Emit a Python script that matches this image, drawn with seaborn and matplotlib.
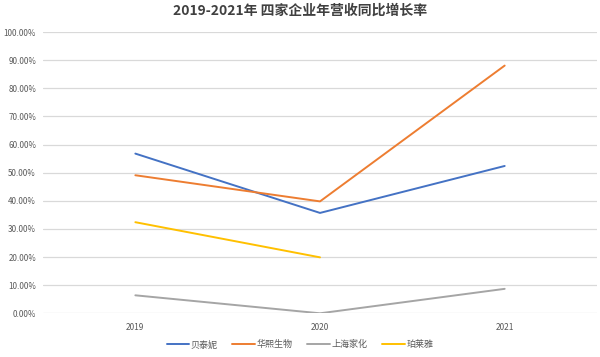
import matplotlib
matplotlib.use("Agg")
import matplotlib.pyplot as plt
import seaborn as sns
import pandas as pd
import numpy as np

years = ["2019", "2020", "2021"]
series_names = ["贝泰妮", "华熙生物", "上海家化", "珀莱雅"]
betaini = [56.8, 35.7, 52.4]
huaxi = [49.1, 39.8, 88.1]
jiahua = [6.4, 0.0, 8.7]
proya = [32.4, 19.9, None]
y_ticks = [0, 10, 20, 30, 40, 50, 60, 70, 80, 90, 100]

colors = ["#4472C4", "#ED7D31", "#A5A5A5", "#FFC000"]

rows = []
for name, vals in zip(series_names, [betaini, huaxi, jiahua, proya]):
    for i, (yr, v) in enumerate(zip(years, vals)):
        if v is not None:
            rows.append({"年份": yr, "pos": i, "增长率": v, "企业": name})
df = pd.DataFrame(rows)

sns.set_theme(style="white")
plt.rcParams['font.family'] = ['Noto Sans CJK SC', 'DejaVu Sans']

fig = plt.figure(figsize=(6, 3.57), dpi=100)
ax = fig.add_axes([0.0717, 0.1224, 0.9233, 0.7876])

sns.lineplot(data=df, x="pos", y="增长率", hue="企业", hue_order=series_names,
             palette=colors, linewidth=1.4, sort=False, ax=ax, legend=True)

ax.set_xlim(-0.5, 2.5)
ax.set_ylim(0, 100)
ax.set_yticks(y_ticks)
ax.set_yticklabels([f"{t:.2f}%" for t in y_ticks], fontsize=5.8, color="#595959")
ax.set_xticks(range(len(years)))
ax.set_xticklabels(years, fontsize=6, color="#595959")
ax.tick_params(axis="y", length=0, pad=5)
ax.tick_params(axis="x", length=0, pad=7)
ax.grid(axis="y", color="#D9D9D9", linewidth=0.9)
ax.set_axisbelow(True)
for s in ax.spines.values():
    s.set_visible(False)
ax.set_xlabel("")
ax.set_ylabel("")

fig.suptitle("2019-2021年 四家企业年营收同比增长率", x=0.5, y=0.99,
             fontsize=10, fontweight="bold", color="#404040")

handles, labels = ax.get_legend_handles_labels()
ax.legend_.remove()
fig.legend(handles, labels, loc="center", bbox_to_anchor=(0.5, 0.034),
           ncol=4, frameon=False, fontsize=6.5, labelcolor="#595959",
           handlelength=2.5, handletextpad=0.2, columnspacing=1.6)

fig.savefig("out.png", dpi=100, facecolor="white")
